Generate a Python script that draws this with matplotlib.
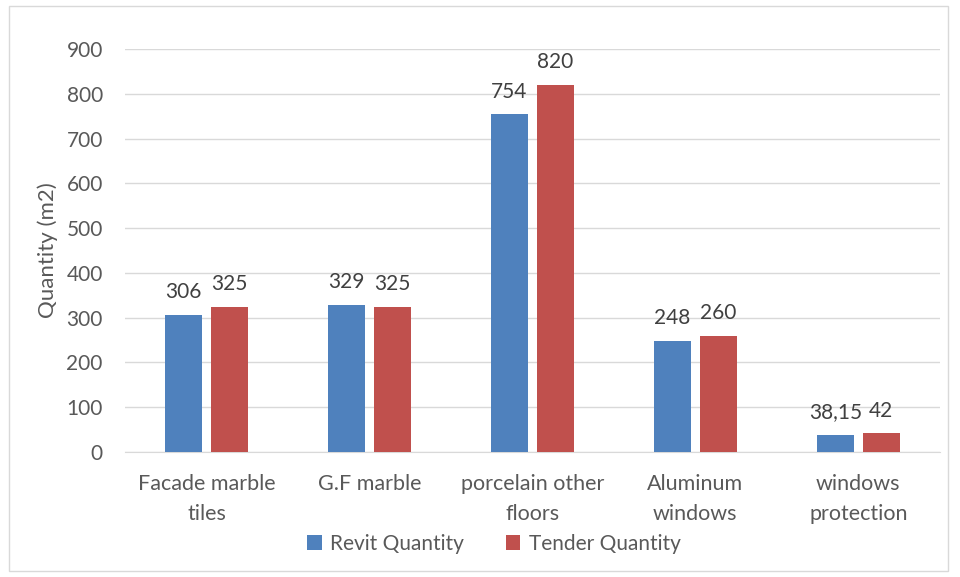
import numpy as np
import matplotlib.pyplot as plt
from matplotlib.patches import Rectangle

categories = ["Facade marble\ntiles", "G.F marble", "porcelain other\nfloors", "Aluminum\nwindows", "windows\nprotection"]
revit = [306, 329, 754, 248, 38.15]
tender = [325, 325, 820, 260, 42]
revit_labels = ["306", "329", "754", "248", "38,15"]
tender_labels = ["325", "325", "820", "260", "42"]

plt.rcParams['font.family'] = ['Lato', 'DejaVu Sans']
text_col = '#595959'

fig = plt.figure(figsize=(9.6, 5.77), dpi=100)
ax = fig.add_axes([0.1302, 0.2166, 0.8488, 0.6984])

x = np.arange(len(categories))
w = 0.227
off = 0.141
b1 = ax.bar(x - off, revit, w, color='#4f81bd', label='Revit Quantity', zorder=3)
b2 = ax.bar(x + off, tender, w, color='#c0504d', label='Tender Quantity', zorder=3)

for bars, labs in [(b1, revit_labels), (b2, tender_labels)]:
    for b, lab in zip(bars, labs):
        ax.text(b.get_x() + b.get_width() / 2, b.get_height() + 28, lab,
                ha='center', va='bottom', fontsize=15, color='#404040')

ax.set_xlim(-0.5, 4.5)
ax.set_ylim(0, 900)
ax.set_yticks(range(0, 901, 100))
ax.set_xticks(x)
ax.set_xticklabels(categories, fontsize=15.5, color=text_col, linespacing=1.6)
ax.tick_params(axis='y', labelsize=15, labelcolor=text_col, length=0, pad=16)
ax.tick_params(axis='x', length=0, pad=16)
ax.grid(axis='y', color='#d9d9d9', linewidth=1, zorder=0)
for s in ['top', 'right', 'left']:
    ax.spines[s].set_visible(False)
ax.spines['bottom'].set_color('#d9d9d9')
ax.set_ylabel('Quantity (m2)', fontsize=16, color=text_col, labelpad=6)

ax.legend(loc='center', bbox_to_anchor=(494 / 960, 1 - 544 / 577),
          bbox_transform=fig.transFigure, ncol=2, frameon=False,
          fontsize=15, labelcolor=text_col, handlelength=0.7, handleheight=0.7,
          columnspacing=2.0, handletextpad=0.4)

fig.patches.append(Rectangle((9 / 960, 1 - 571 / 577), 939 / 960, 565 / 577,
                             transform=fig.transFigure, fill=False,
                             edgecolor='#d9d9d9', linewidth=1))

fig.savefig('out.png', dpi=100)
